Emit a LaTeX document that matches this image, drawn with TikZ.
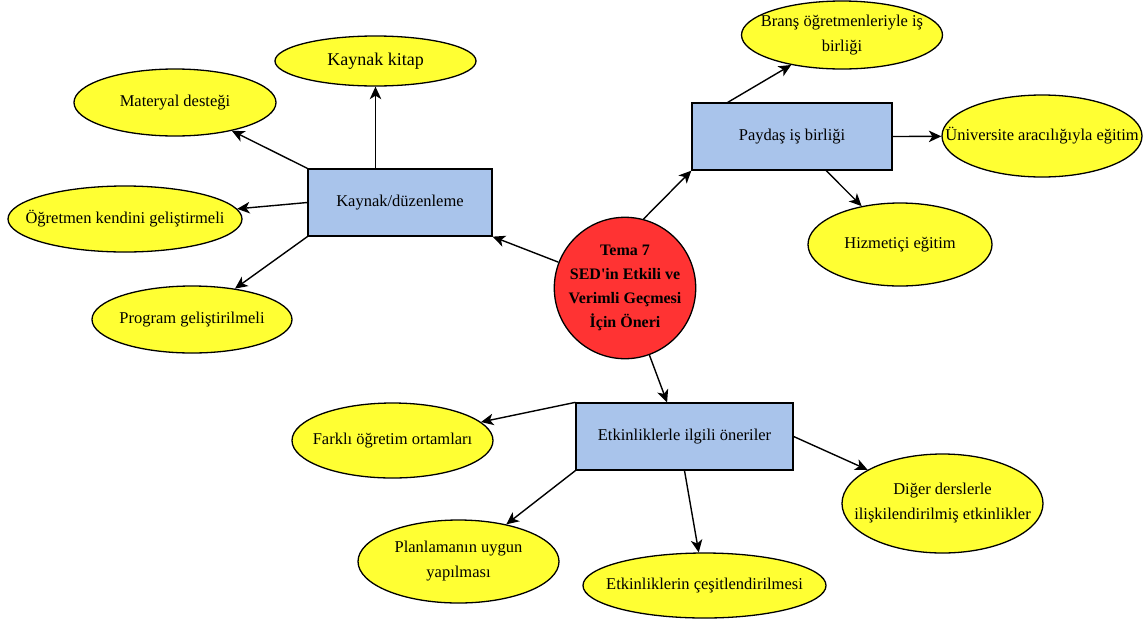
\documentclass[tikz,border=0pt]{standalone}
\usepackage{fontspec}
\setmainfont{Liberation Serif}
\usetikzlibrary{shapes,arrows.meta,positioning}
\definecolor{leafyellow}{HTML}{FFFF33}
\definecolor{boxblue}{HTML}{A9C4EB}
\definecolor{themered}{HTML}{FF3333}

\begin{document}
\begin{tikzpicture}[
        x=1pt, y=-1pt,
        box/.style={rectangle, draw, fill=boxblue, line width=1.3pt, inner sep=0pt, font=\fontsize{16.5}{25}\selectfont},
        leaf/.style={ellipse, draw, fill=leafyellow, line width=1.3pt, inner sep=0pt},
        leaftext/.style={align=center, font=\fontsize{16.5}{25}\selectfont},
        theme/.style={circle, draw, fill=themered, line width=1.3pt, inner sep=0pt, minimum size=134pt, align=center, font=\bfseries\fontsize{16}{24}\selectfont},
        link/.style={-{Stealth[length=12.5pt,width=11.5pt,inset=3.5pt]}, line width=1.4pt},
        ]
        \useasboundingbox (0,0) rectangle (1147,619);

        % Central theme
        \node[theme] (tema) at (625,288) {Tema 7\\SED\textquotesingle in Etkili ve\\Verimli Geçmesi\\İçin Öneri};

        % Main boxes
        \node[box, minimum width=184pt, minimum height=67pt] (kaynak) at (400,202.5) {Kaynak/düzenleme};
        \node[box, minimum width=200pt, minimum height=67pt] (paydas) at (792,136.5) {Paydaş iş birliği};
        \node[box, minimum width=217pt, minimum height=67pt] (etkinlik) at (684.5,436.5) {Etkinliklerle ilgili öneriler};

        % Kaynak side
        \node[leaf, minimum width=201pt, minimum height=50pt, label={[leaftext, font=\fontsize{18}{22}\selectfont]center:Kaynak kitap}] (kitap) at (375.5,61) {};
        \node[leaf, minimum width=202pt, minimum height=67pt, label={[leaftext]center:Materyal desteği}] (materyal) at (175,102.5) {};
        \node[leaf, minimum width=234pt, minimum height=66pt, label={[leaftext]center:Öğretmen kendini geliştirmeli}] (ogretmen) at (125,219) {};
        \node[leaf, minimum width=200pt, minimum height=67pt, label={[leaftext]center:Program geliştirilmeli}] (program) at (192,319.5) {};

        % Paydas side
        \node[leaf, minimum width=201pt, minimum height=68pt, label={[leaftext]center:Branş öğretmenleriyle iş\\birliği}] (brans) at (842,35) {};
        \node[leaf, minimum width=200pt, minimum height=82pt, label={[leaftext]center:Üniversite aracılığıyla eğitim}] (univ) at (1042,136) {};
        \node[leaf, minimum width=184pt, minimum height=83pt, label={[leaftext]center:Hizmetiçi eğitim}] (hizmet) at (900,244.5) {};

        % Etkinlik side
        \node[leaf, minimum width=201pt, minimum height=75pt, label={[leaftext]center:Farklı öğretim ortamları}] (farkli) at (392.5,440.5) {};
        \node[leaf, minimum width=201pt, minimum height=83pt, label={[leaftext]center:Planlamanın uygun\\yapılması}] (planlama) at (458.5,561.5) {};
        \node[leaf, minimum width=243pt, minimum height=65pt, label={[leaftext]center:Etkinliklerin çeşitlendirilmesi}] (cesit) at (704.5,585.5) {};
        \node[leaf, minimum width=201pt, minimum height=99pt, label={[leaftext]center:Diğer derslerle\\ilişkilendirilmiş etkinlikler}] (diger) at (942.5,503.5) {};

        % Arrows
        \draw[link] (tema) -- (kaynak.south east);
        \draw[link] (tema.75) -- (paydas.south west);
        \draw[link] (tema.-70) -- (etkinlik.117.6);

        \draw[link] (kitap |- kaynak.north) -- (kitap);
        \draw[link] (kaynak.north west) -- (materyal);
        \draw[link] (kaynak.west) -- (ogretmen);
        \draw[link] (kaynak.south west) -- (program);

        \draw[link] (paydas.152.7) -- (brans);
        \draw[link] (paydas.east) -- (univ);
        \draw[link] (paydas.-45) -- (hizmet);

        \draw[link] (etkinlik.north west) -- (farkli);
        \draw[link] (etkinlik.south west) -- (planlama);
        \draw[link] (etkinlik.south) -- (cesit);
        \draw[link] (etkinlik.east) -- (diger);

    \end{tikzpicture}
\end{document}
